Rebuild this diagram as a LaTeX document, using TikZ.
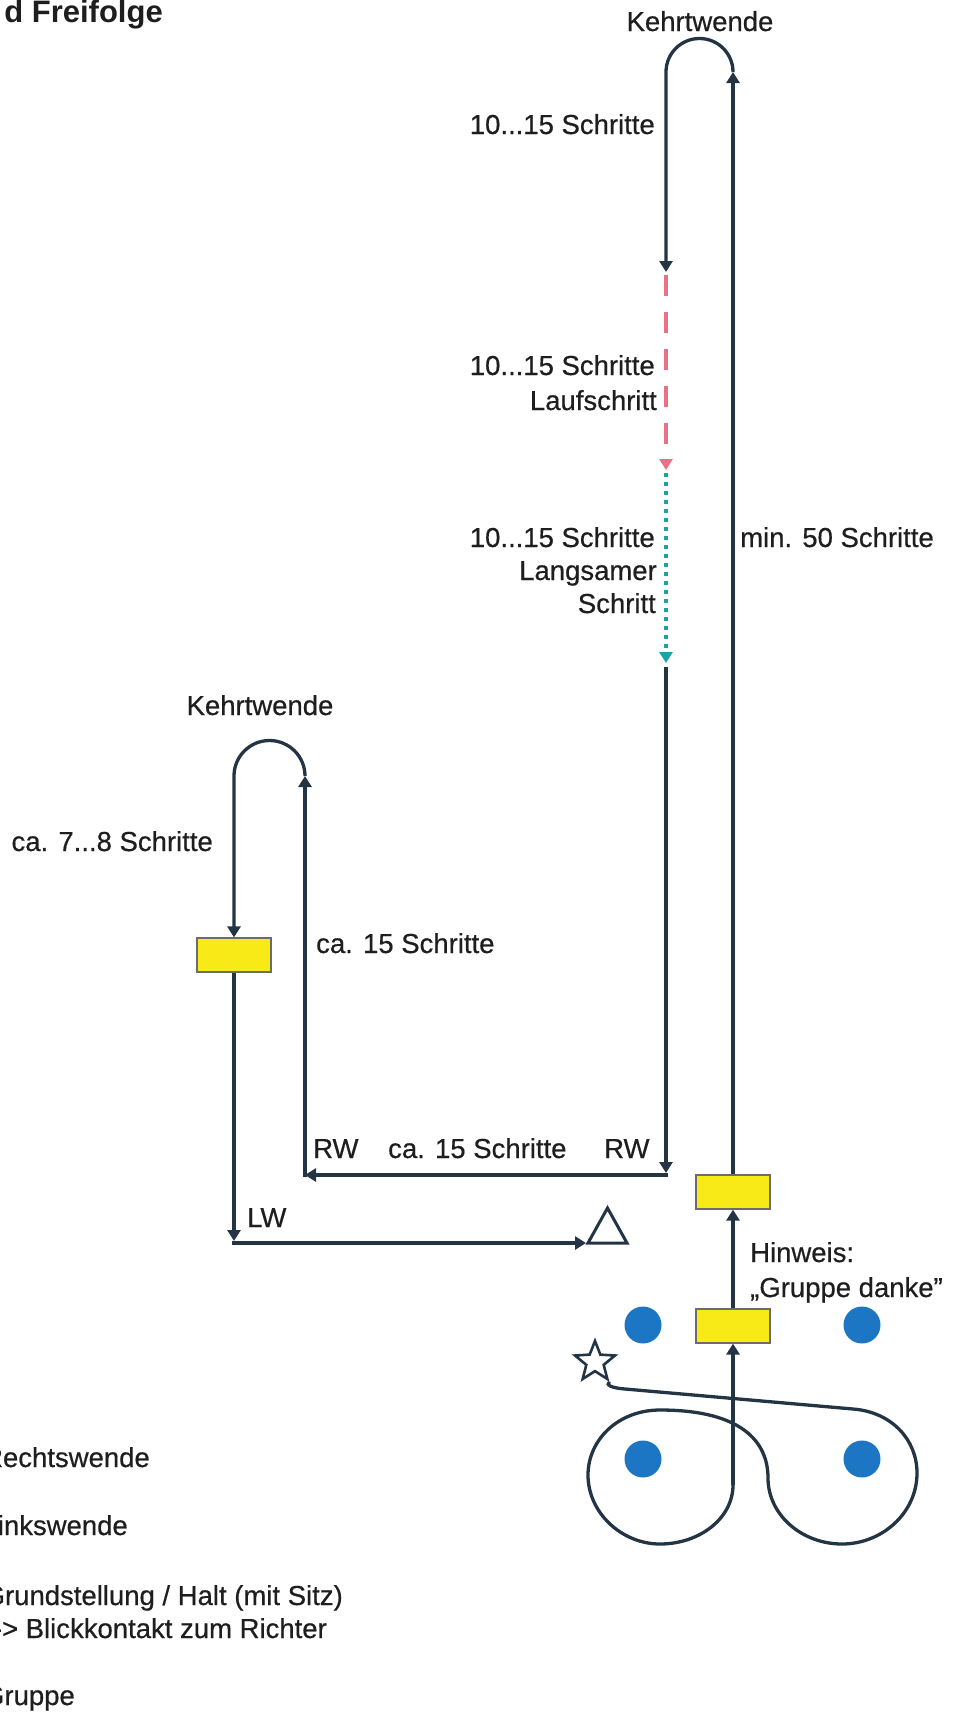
\documentclass[tikz,border=0pt]{standalone}
\usepackage{fontspec}
\setmainfont[FakeBold=0.5]{Liberation Sans}
\newfontfamily\titlefont{Liberation Sans Bold}
\usetikzlibrary{arrows.meta,shapes.geometric}
\definecolor{lineC}{RGB}{35,52,68}
\definecolor{pinkC}{RGB}{232,112,135}
\definecolor{tealC}{RGB}{25,165,165}
\definecolor{boxY}{RGB}{248,234,22}
\definecolor{dotB}{RGB}{28,118,196}
\definecolor{txtC}{RGB}{30,30,30}
\begin{document}
\begin{tikzpicture}[x=1pt,y=-1pt,
  ln/.style={draw=lineC,line width=3.3pt},
  arr/.style={ln,-{Triangle[width=13pt,length=11pt]}},
  lbl/.style={text=txtC,font=\fontsize{27.5}{32}\selectfont,inner sep=0pt},
  ybox/.style={draw=gray!85!black,line width=1.2pt,fill=boxY,minimum width=74pt,minimum height=34pt,inner sep=0pt},
  bdot/.style={circle,fill=dotB,minimum size=37pt,inner sep=0pt},
  pinkarr/.style={draw=pinkC,line width=3.8pt,dash pattern=on 21pt off 16pt,-{Triangle[width=13pt,length=11pt,fill=pinkC]}},
  tealarr/.style={draw=tealC,line width=3.6pt,dash pattern=on 3.5pt off 5.5pt,-{Triangle[width=13pt,length=11pt,fill=tealC]}},
]
\useasboundingbox (0,0) rectangle (957,1713);

% title
\node[lbl,font=\titlefont\fontsize{31}{36}\selectfont,anchor=base east] (title) at (163,22) {d Freifolge};

% boxes and dots
\node[ybox] (ub) at (733,1192) {};
\node[ybox] (lb) at (733,1326) {};
\node[ybox] (kb) at (234,955) {};
\node[bdot] (d1) at (643,1325) {};
\node[bdot] (d2) at (862,1325) {};
\node[bdot] (d3) at (643,1459) {};
\node[bdot] (d4) at (862,1459) {};
\node[star,star points=5,star point ratio=2.3,minimum size=42pt,draw=lineC,line width=2.6pt,fill=white,inner sep=0pt] (st) at (595,1362) {};

% coordinates
\coordinate (u1r) at (733,72);
\coordinate (u1l) at (666,72);
\coordinate (p1) at (666,272);
\coordinate (p1b) at (666,275);
\coordinate (p2) at (666,470);
\coordinate (p2b) at (666,473);
\coordinate (p3) at (666,663);
\coordinate (p4) at (666,667);
\coordinate (rw0) at (666,1173);
\coordinate (rw1) at (667.6,1175);
\coordinate (rw2) at (305,1175);
\coordinate (rw3) at (305,1176.6);
\coordinate (u2r) at (305,776);
\coordinate (u2l) at (234,776);
\coordinate (lw0) at (234,1241);
\coordinate (lw1) at (232.4,1243);
\coordinate (tri) at (586,1243);
\coordinate (f8) at (733,1485);

% top U-turn
\draw[arr] (ub.north) -- (u1r);
\draw[arr] (u1r) .. controls (733,53.5) and (718,38.5) .. (699.5,38.5)
  .. controls (681,38.5) and (666,53.5) .. (u1l) -- (p1);
\draw[pinkarr] (p1b) -- (p2);
\draw[tealarr] (p2b) -- (p3);
\draw[arr] (p4) -- (rw0);
\draw[arr] (rw1) -- (rw2);
\draw[arr] (rw3) -- (u2r);
\draw[arr] (u2r) .. controls (305,756.4) and (289.1,740.5) .. (269.5,740.5)
  .. controls (249.9,740.5) and (234,756.4) .. (u2l) -- (kb.north);
\draw[arr] (kb.south) -- (lw0);
\draw[arr] (lw1) -- (tri);

% triangle
\draw[draw=lineC,line width=3pt,fill=white,line join=miter] (588,1243) -- (607.5,1208) -- (627,1243) -- cycle;

% right column
\draw[arr] (lb.north) -- (ub.south);
\draw[arr] (f8) -- (lb.south);

% figure eight
\draw[ln] (st.outer point 4) .. controls (605,1385) and (612,1388) .. (625,1389)
  -- (853,1409) .. controls (892,1412) and (917,1440) .. (917,1473)
  .. controls (917,1513) and (882,1544) .. (842,1544)
  .. controls (802,1544) and (768,1515) .. (768,1478)
  .. controls (768,1442) and (742,1410) .. (660,1410)
  .. controls (618,1410) and (588,1440) .. (588,1475)
  .. controls (588,1513) and (622,1544) .. (660,1544)
  .. controls (700,1544) and (733,1518) .. (f8);

% labels
\node[lbl,anchor=base] (kw1) at (700,31) {Kehrtwende};
\node[lbl,anchor=base east] (s1) at (655,134) {10...15 Schritte};
\node[lbl,anchor=base east] (s2) at (655,375) {10...15 Schritte};
\node[lbl,anchor=base east] (lauf) at (657,410) {Laufschritt};
\node[lbl,anchor=base east] (s3) at (655,547) {10...15 Schritte};
\node[lbl,anchor=base east] (lang) at (657,580) {Langsamer};
\node[lbl,anchor=base east] (schr) at (656,613) {Schritt};
\node[lbl,anchor=base west] (min) at (740,547) {min. 50 Schritte};
\node[lbl,anchor=base] (kw2) at (260,715) {Kehrtwende};
\node[lbl,anchor=base east] (ca78) at (213,851) {ca. 7...8 Schritte};
\node[lbl,anchor=base west] (ca15a) at (316,953) {ca. 15 Schritte};
\node[lbl,anchor=base west] (rwL) at (313,1158) {RW};
\node[lbl,anchor=base west] (ca15b) at (388,1158) {ca. 15 Schritte};
\node[lbl,anchor=base west] (rwR) at (604,1158) {RW};
\node[lbl,anchor=base west] (lwt) at (247,1227) {LW};
\node[lbl,anchor=base west] (hin) at (750,1262) {Hinweis:};
\node[lbl,anchor=base west] (grp) at (750,1297) {„Gruppe danke"};

% legend (clipped at left edge)
\node[lbl,anchor=base east] (lg1) at (150,1467) {Rechtswende};
\node[lbl,anchor=base east] (lg2) at (128,1535) {Linkswende};
\node[lbl,anchor=base east] (lg3) at (343,1605) {Grundstellung / Halt (mit Sitz)};
\node[lbl,anchor=base east] (lg4) at (327,1638) {-> Blickkontakt zum Richter};
\node[lbl,anchor=base east] (lg5) at (75,1705) {Gruppe};
\end{tikzpicture}
\end{document}
